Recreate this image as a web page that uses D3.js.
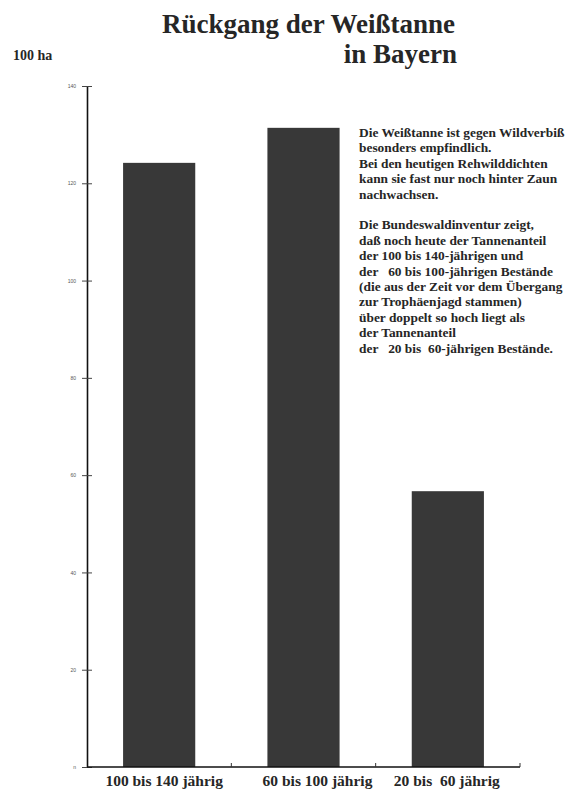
<!DOCTYPE html>
<html>
<head>
<meta charset="utf-8">
<script src="https://cdn.jsdelivr.net/npm/d3@7"></script>
<style>
  body { margin: 0; background: #fff; }
  svg { display: block; }
  .serif { font-family: 'Liberation Serif', 'Times New Roman', serif; font-weight: bold; fill: #262626; }
  .yAxis text { font-family: 'Liberation Sans', Arial, sans-serif; font-size: 5px; fill: #555; }
</style>
</head>
<body>
<div id="chart"></div>
<script>
const categories = ['100 bis 140 jährig', '60 bis 100 jährig', '20 bis  60 jährig'];
const values = [124.2, 131.4, 56.7];
const yTicks = [0, 20, 40, 60, 80, 100, 120, 140];
const titleLines = ['Rückgang der Weißtanne', 'in Bayern'];
const noteLines = [
  'Die Weißtanne ist gegen Wildverbiß',
  'besonders empfindlich.',
  'Bei den heutigen Rehwilddichten',
  'kann sie fast nur noch hinter Zaun',
  'nachwachsen.',
  '',
  'Die Bundeswaldinventur zeigt,',
  'daß noch heute der Tannenanteil',
  'der 100 bis 140-jährigen und',
  'der   60 bis 100-jährigen Bestände',
  '(die aus der Zeit vor dem Übergang',
  'zur Trophäenjagd stammen)',
  'über doppelt so hoch liegt als',
  'der Tannenanteil',
  'der   20 bis  60-jährigen Bestände.'
];

const width = 576;
const height = 791;
const margins = { top: 86, bottom: 24, left: 87, right: 56 };

const svg = d3.select('#chart').append('svg')
  .attr('width', width)
  .attr('height', height);

const xScale = d3.scaleBand()
  .domain(categories)
  .range([margins.left, width - margins.right])
  .paddingInner(0.5)
  .paddingOuter(0.25);

const yScale = d3.scaleLinear()
  .domain([0, 140])
  .range([height - margins.bottom, margins.top]);

// bars
svg.append('g')
  .selectAll('rect')
  .data(values)
  .join('rect')
  .attr('x', (d, i) => xScale(categories[i]))
  .attr('y', d => yScale(d))
  .attr('width', xScale.bandwidth())
  .attr('height', d => yScale(0) - yScale(d))
  .style('fill', '#383838');

// y axis, ticks crossing the line
const yAxis = d3.axisLeft(yScale)
  .tickValues(yTicks)
  .tickSizeInner(5)
  .tickSizeOuter(0)
  .tickPadding(6)
  .tickFormat(d => d === 0 ? 'n' : d);

const yAxisG = svg.append('g')
  .attr('class', 'yAxis')
  .attr('transform', `translate(${margins.left},0)`)
  .call(yAxis);

yAxisG.select('.domain')
  .style('stroke', '#111')
  .style('stroke-width', 1.6);
yAxisG.selectAll('.tick line')
  .attr('x1', 5)
  .style('stroke', '#444');

// x axis baseline with ticks at band edges
const step = xScale.step();
const edges = categories.map(c => xScale(c) + xScale.bandwidth() + step * 0.25);

svg.append('line')
  .attr('x1', margins.left)
  .attr('x2', width - margins.right)
  .attr('y1', yScale(0))
  .attr('y2', yScale(0))
  .style('stroke', '#111')
  .style('stroke-width', 1.6);

svg.append('g')
  .selectAll('line')
  .data(edges)
  .join('line')
  .attr('x1', d => d)
  .attr('x2', d => d)
  .attr('y1', yScale(0))
  .attr('y2', yScale(0) - 4)
  .style('stroke', '#333');

// category labels (the scan has them a little off-centre)
const labelNudge = [5, 14, -1];
svg.append('g')
  .selectAll('text')
  .data(categories)
  .join('text')
  .attr('class', 'serif')
  .attr('x', (d, i) => xScale(d) + xScale.bandwidth() / 2 + labelNudge[i])
  .attr('y', 786)
  .attr('text-anchor', 'middle')
  .style('font-size', '15.5px')
  .style('white-space', 'pre')
  .text(d => d);

// title
svg.append('text')
  .attr('class', 'serif')
  .attr('x', 455)
  .attr('y', 33)
  .attr('text-anchor', 'end')
  .style('font-size', '27px')
  .text(titleLines[0]);

svg.append('text')
  .attr('class', 'serif')
  .attr('x', 457)
  .attr('y', 63)
  .attr('text-anchor', 'end')
  .style('font-size', '27px')
  .text(titleLines[1]);

// unit label
svg.append('text')
  .attr('class', 'serif')
  .attr('x', 13)
  .attr('y', 60)
  .style('font-size', '14px')
  .text('100 ha');

// annotation
svg.append('g')
  .selectAll('text')
  .data(noteLines)
  .join('text')
  .attr('class', 'serif')
  .attr('x', 359)
  .attr('y', (d, i) => 137 + i * 15.4)
  .style('font-size', '13.4px')
  .style('white-space', 'pre')
  .text(d => d);
</script>
</body>
</html>
